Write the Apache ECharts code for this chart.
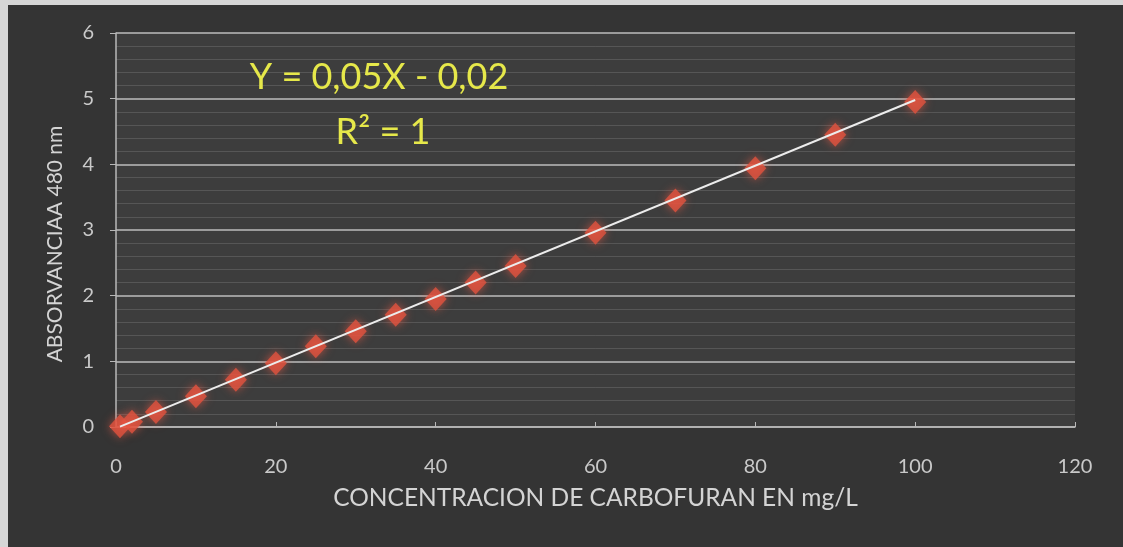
<!DOCTYPE html>
<html>
<head>
<meta charset="utf-8">
<script src="https://cdn.jsdelivr.net/npm/echarts@6/dist/echarts.min.js"></script>
<style>
  html, body { margin: 0; padding: 0; background: #343434; }
  #chart { width: 1123px; height: 547px; }
</style>
</head>
<body>
<div id="chart"></div>
<script>
// Calibration data: carbofuran concentration (mg/L) vs absorbance at 480 nm
const concentration = [0.5, 2, 5, 10, 15, 20, 25, 30, 35, 40, 45, 50, 60, 70, 80, 90, 100];
const absorbance = [0.01, 0.08, 0.23, 0.47, 0.72, 0.97, 1.23, 1.46, 1.71, 1.95, 2.2, 2.45, 2.96, 3.45, 3.94, 4.45, 4.95];

// Linear fit shown on the chart
const slope = 0.05;
const intercept = -0.02;
const equationText = 'Y = 0,05X - 0,02';
const r2Text = 'R\u00B2 = 1';

const xTitle = 'CONCENTRACION DE CARBOFURAN EN mg/L';
const yTitle = 'ABSORVANCIAA 480 nm';

const fitX = [concentration[0], concentration[concentration.length - 1]];
const fitLine = fitX.map(x => [x, slope * x + intercept]);
const points = concentration.map((x, i) => [x, absorbance[i]]);

const font = 'Lato, "Open Sans", sans-serif';
const labelColor = '#c9c9c9';

const chart = echarts.init(document.getElementById('chart'));
chart.setOption({
  backgroundColor: '#343434',
  animation: false,
  grid: {
    left: 116, right: 48, top: 33, bottom: 120,
    show: true, backgroundColor: '#3d3d3d', borderWidth: 0
  },
  xAxis: {
    type: 'value', min: 0, max: 120, interval: 20,
    name: xTitle, nameLocation: 'middle', nameGap: 59,
    nameTextStyle: { color: '#d4d4d4', fontSize: 24.5, fontFamily: font },
    axisLine: { show: true, lineStyle: { color: '#b8b8b8', width: 1.5 } },
    axisTick: { show: true, inside: true, length: 5, lineStyle: { color: '#b8b8b8' } },
    axisLabel: { color: labelColor, fontSize: 20, fontFamily: font, margin: 30 },
    splitLine: { show: false }
  },
  yAxis: {
    type: 'value', min: 0, max: 6, interval: 1,
    name: yTitle, nameLocation: 'middle', nameGap: 50, nameRotate: 90,
    nameTextStyle: { color: '#d4d4d4', fontSize: 21, fontFamily: font, padding: [0, 28, 0, 0] },
    axisLine: { show: true, lineStyle: { color: '#b8b8b8', width: 1.5 } },
    axisTick: { show: true, length: 6, lineStyle: { color: '#b8b8b8' } },
    axisLabel: { color: labelColor, fontSize: 20, fontFamily: font, margin: 22 },
    splitLine: { show: true, lineStyle: { color: '#bdbdbd', width: 1.5 } },
    minorTick: { show: false, splitNumber: 5 },
    minorSplitLine: { show: true, lineStyle: { color: 'rgba(255,255,255,0.13)', width: 1 } }
  },
  series: [
    {
      type: 'scatter',
      data: points,
      symbol: 'diamond',
      symbolSize: [22, 24],
      z: 2,
      itemStyle: {
        color: '#e2523f',
        shadowBlur: 10,
        shadowColor: 'rgba(240,90,70,0.8)'
      }
    },
    {
      type: 'line',
      data: fitLine,
      showSymbol: false,
      z: 3,
      lineStyle: { color: '#ececec', width: 2 }
    }
  ],
  graphic: [
    { type: 'rect', left: 0, top: 0, shape: { width: 1123, height: 5 }, style: { fill: '#d6d6d6' }, silent: true },
    { type: 'rect', left: 0, top: 0, shape: { width: 8, height: 547 }, style: { fill: '#d6d6d6' }, silent: true },
    {
      type: 'text', x: 379, y: 77, z: 10,
      style: { text: equationText, fill: '#e6e84a', font: '36px ' + font, align: 'center', verticalAlign: 'middle' }
    },
    {
      type: 'text', x: 383, y: 132, z: 10,
      style: { text: r2Text, fill: '#e6e84a', font: '36px ' + font, align: 'center', verticalAlign: 'middle' }
    }
  ]
});
</script>
</body>
</html>
